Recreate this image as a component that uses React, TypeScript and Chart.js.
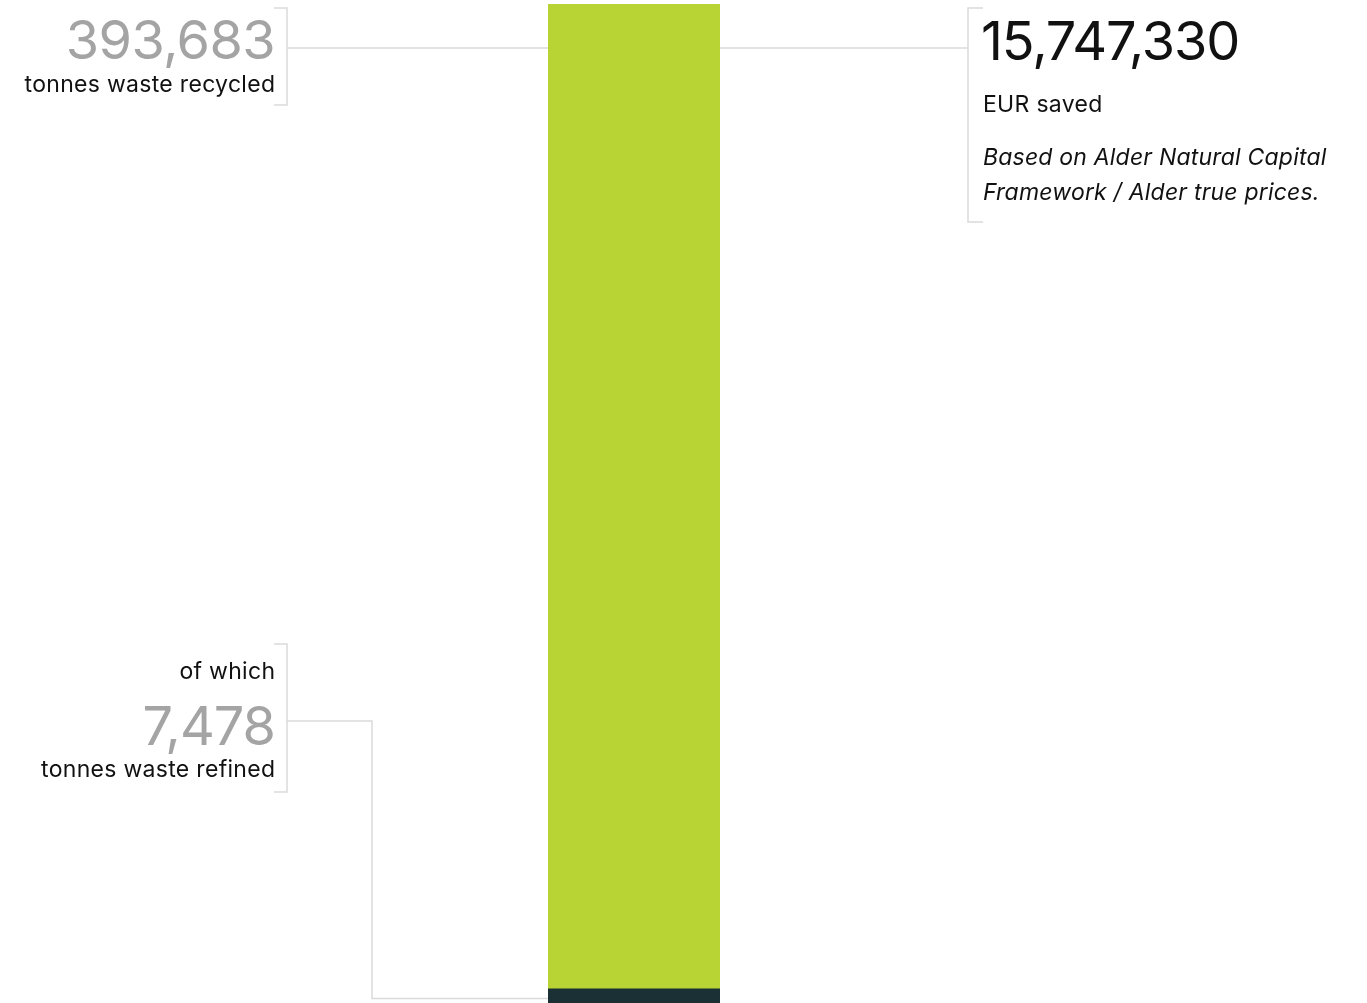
import React, { useEffect, useRef } from "react";
import { Chart, registerables } from "chart.js";

Chart.register(...registerables);

const categories = ["Waste"];
const totalRecycled = 393683;
const refined = 7478;
const eurSaved = 15747330;
const seriesLabels = ["Recycled (not refined)", "Refined"];
const seriesValues = [totalRecycled - refined, refined];

const FONT = "Inter, 'Noto Sans', sans-serif";
const LINE = "#dadada";
const GREY = "#a4a4a4";
const INK = "#111111";

const fmt = (n: number) => n.toLocaleString("en-US");

const annotate = {
  id: "annotate",
  afterDraw(chart: any) {
    const ctx = chart.ctx as CanvasRenderingContext2D;
    const y = chart.scales.y;
    const meta0 = chart.getDatasetMeta(0).data[0] as any;
    const left = meta0.x - meta0.width / 2;
    const right = meta0.x + meta0.width / 2;
    const topY = y.getPixelForValue(totalRecycled);
    const refMid = (y.getPixelForValue(0) + y.getPixelForValue(refined)) / 2;

    ctx.save();
    ctx.strokeStyle = LINE;
    ctx.lineWidth = 1.5;
    const seg = (pts: number[][]) => {
      ctx.beginPath();
      ctx.moveTo(pts[0][0], pts[0][1]);
      for (let i = 1; i < pts.length; i++) ctx.lineTo(pts[i][0], pts[i][1]);
      ctx.stroke();
    };
    const lineY = topY + 44;
    // top-left bracket and connector
    seg([[274, 8], [287, 8], [287, 105], [274, 105]]);
    seg([[287, lineY], [left, lineY]]);
    // top-right bracket and connector
    seg([[right, lineY], [968, lineY]]);
    seg([[983, 8], [968, 8], [968, 222], [983, 222]]);
    // lower-left bracket and elbow connector
    seg([[274, 644], [287, 644], [287, 792], [274, 792]]);
    seg([[287, 721], [372, 721], [372, refMid], [left, refMid]]);

    ctx.textBaseline = "alphabetic";
    const txt = (s: string, x: number, yy: number, font: string, color: string, align: CanvasTextAlign, ls = "0px") => {
      ctx.font = font;
      ctx.fillStyle = color;
      ctx.textAlign = align;
      (ctx as any).letterSpacing = ls;
      ctx.fillText(s, x, yy);
    };
    const big = `400 54px ${FONT}`;
    const small = `400 23px ${FONT}`;
    const smallIt = `italic 400 23px ${FONT}`;
    txt(fmt(totalRecycled), 275, 59, big, GREY, "right", "-0.6px");
    txt("tonnes waste recycled", 275.3, 92, small, INK, "right", "0.3px");
    txt(fmt(eurSaved), 981, 60, big, INK, "left", "-1.1px");
    txt("EUR saved", 983, 112, small, INK, "left", "0.3px");
    txt("Based on Alder Natural Capital", 983, 165, smallIt, INK, "left", "0.2px");
    txt("Framework / Alder true prices.", 983, 200, smallIt, INK, "left", "0.2px");
    txt("of which", 275.3, 679, small, INK, "right", "0.3px");
    txt(fmt(refined), 275, 745, big, GREY, "right", "-1px");
    txt("tonnes waste refined", 275.3, 777, small, INK, "right", "0.3px");
    ctx.restore();
  },
};

export default function App() {
  const ref = useRef<HTMLCanvasElement | null>(null);
  useEffect(() => {
    if (!ref.current) return;
    const chart = new Chart(ref.current, {
      type: "bar",
      data: {
        labels: categories,
        datasets: [
          { label: seriesLabels[1], data: [seriesValues[1]], backgroundColor: "#1b3034", order: 1 },
          { label: seriesLabels[0], data: [seriesValues[0]], backgroundColor: "#b7d434", order: 2 },
        ],
      },
      options: {
        animation: false,
        responsive: false,
        maintainAspectRatio: false,
        layout: { padding: { left: 548, right: 647, top: 4, bottom: 12 } },
        datasets: { bar: { barPercentage: 1, categoryPercentage: 1, borderWidth: 0 } },
        scales: {
          x: { stacked: true, display: false },
          y: { stacked: true, display: false, min: 0, max: totalRecycled },
        },
        plugins: { legend: { display: false }, tooltip: { enabled: false } },
      },
      plugins: [annotate],
    });
    return () => chart.destroy();
  }, []);
  return (
    <div style={{ position: "absolute", left: 0, top: 0, width: 1367, height: 1003, overflow: "hidden", background: "#fff" }}>
      <canvas ref={ref} width={1367} height={1020} style={{ display: "block" }} />
    </div>
  );
}
